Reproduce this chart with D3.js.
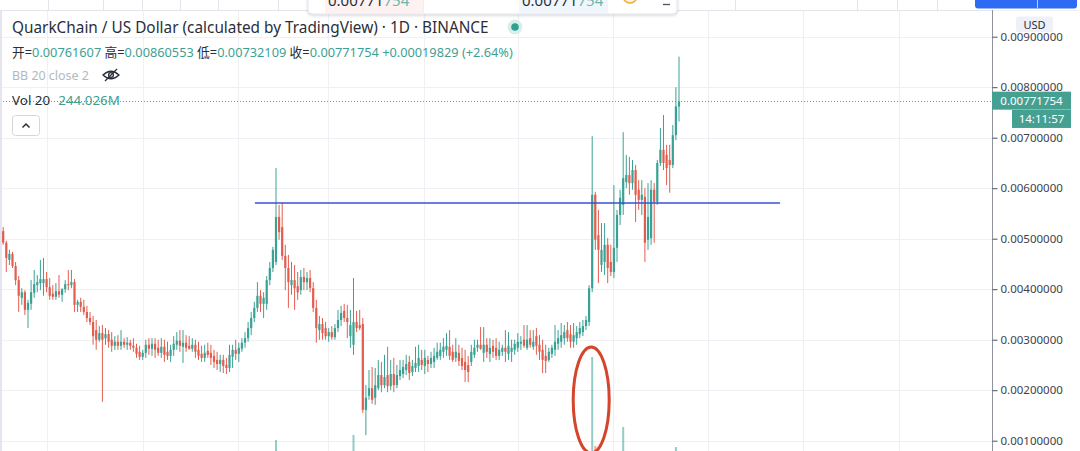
<!DOCTYPE html>
<html><head><meta charset="utf-8">
<script src="https://cdn.jsdelivr.net/npm/d3@7"></script>
<style>
body{margin:0;background:#fff;overflow:hidden}
svg{display:block}
text{font-family:"Noto Sans","Noto Sans CJK SC",sans-serif}
</style></head>
<body><svg id="c" width="1080" height="451"></svg>
<script>
// ---- data (QKC/USD daily) ----
const opens=[0.00515,0.00492,0.00458,0.00470,0.00446,0.00418,0.00383,0.00394,0.00359,0.00371,
0.00393,0.00408,0.00412,0.00412,0.00420,0.00404,0.00391,0.00385,0.00396,0.00389,
0.00400,0.00410,0.00408,0.00414,0.00369,0.00375,0.00365,0.00355,0.00343,0.00335,
0.00319,0.00300,0.00313,0.00303,0.00311,0.00300,0.00288,0.00296,0.00288,0.00296,
0.00290,0.00294,0.00288,0.00284,0.00276,0.00266,0.00274,0.00290,0.00282,0.00292,
0.00284,0.00274,0.00286,0.00276,0.00268,0.00280,0.00290,0.00298,0.00286,0.00294,
0.00288,0.00282,0.00290,0.00280,0.00272,0.00264,0.00278,0.00274,0.00268,0.00260,
0.00252,0.00260,0.00250,0.00244,0.00266,0.00280,0.00272,0.00282,0.00294,0.00303,
0.00323,0.00343,0.00363,0.00387,0.00371,0.00371,0.00418,0.00442,0.00454,0.00543,
0.00523,0.00466,0.00442,0.00408,0.00418,0.00406,0.00398,0.00424,0.00414,0.00422,
0.00402,0.00363,0.00319,0.00331,0.00323,0.00307,0.00315,0.00305,0.00323,0.00339,
0.00357,0.00343,0.00307,0.00290,0.00335,0.00329,0.00331,0.00161,0.00189,0.00204,
0.00185,0.00204,0.00230,0.00210,0.00230,0.00208,0.00232,0.00210,0.00228,0.00232,
0.00240,0.00256,0.00236,0.00244,0.00248,0.00260,0.00248,0.00260,0.00252,0.00256,
0.00264,0.00268,0.00276,0.00280,0.00286,0.00276,0.00264,0.00274,0.00264,0.00256,
0.00250,0.00256,0.00270,0.00284,0.00290,0.00274,0.00290,0.00272,0.00288,0.00284,
0.00268,0.00276,0.00284,0.00272,0.00276,0.00280,0.00284,0.00292,0.00300,0.00284,
0.00303,0.00286,0.00307,0.00290,0.00280,0.00268,0.00260,0.00272,0.00280,0.00292,
0.00296,0.00303,0.00319,0.00311,0.00296,0.00303,0.00311,0.00315,0.00327,0.00335,
0.00402,0.00587,0.00507,0.00448,0.00454,0.00488,0.00454,0.00434,0.00482,0.00547,
0.00567,0.00612,0.00626,0.00610,0.00636,0.00597,0.00577,0.00583,0.00498,0.00501,
0.00597,0.00573,0.00650,0.00676,0.00666,0.00656,0.00646,0.00705,0.00761607];
const highs=[0.00523,0.00496,0.00478,0.00474,0.00454,0.00426,0.00402,0.00398,0.00379,0.00418,
0.00438,0.00428,0.00458,0.00462,0.00434,0.00422,0.00408,0.00412,0.00428,0.00402,
0.00418,0.00438,0.00438,0.00420,0.00379,0.00383,0.00379,0.00367,0.00355,0.00347,
0.00339,0.00327,0.00329,0.00323,0.00319,0.00315,0.00307,0.00309,0.00319,0.00303,
0.00305,0.00300,0.00303,0.00292,0.00288,0.00280,0.00300,0.00303,0.00303,0.00303,
0.00300,0.00303,0.00300,0.00296,0.00290,0.00307,0.00315,0.00319,0.00319,0.00309,
0.00307,0.00303,0.00300,0.00296,0.00288,0.00290,0.00294,0.00290,0.00280,0.00276,
0.00270,0.00270,0.00264,0.00290,0.00290,0.00300,0.00294,0.00303,0.00315,0.00335,
0.00355,0.00375,0.00414,0.00398,0.00394,0.00426,0.00454,0.00484,0.00640,0.00567,
0.00571,0.00488,0.00468,0.00454,0.00448,0.00434,0.00438,0.00442,0.00434,0.00438,
0.00414,0.00379,0.00347,0.00343,0.00335,0.00323,0.00327,0.00331,0.00359,0.00367,
0.00371,0.00369,0.00359,0.00422,0.00357,0.00359,0.00343,0.00210,0.00240,0.00246,
0.00244,0.00260,0.00256,0.00270,0.00286,0.00260,0.00264,0.00250,0.00260,0.00260,
0.00270,0.00268,0.00260,0.00286,0.00290,0.00280,0.00280,0.00268,0.00276,0.00284,
0.00294,0.00294,0.00303,0.00313,0.00319,0.00290,0.00303,0.00290,0.00284,0.00280,
0.00268,0.00290,0.00300,0.00300,0.00325,0.00325,0.00303,0.00303,0.00300,0.00303,
0.00296,0.00290,0.00319,0.00315,0.00300,0.00300,0.00313,0.00307,0.00329,0.00329,
0.00319,0.00319,0.00323,0.00309,0.00300,0.00290,0.00284,0.00290,0.00329,0.00319,
0.00333,0.00329,0.00335,0.00329,0.00333,0.00327,0.00335,0.00339,0.00347,0.00408,
0.00703,0.00593,0.00557,0.00531,0.00531,0.00501,0.00488,0.00606,0.00557,0.00597,
0.00711,0.00666,0.00662,0.00656,0.00646,0.00616,0.00616,0.00600,0.00610,0.00616,
0.00610,0.00656,0.00719,0.00745,0.00686,0.00686,0.00725,0.00800,0.00860553];
const lows=[0.00488,0.00434,0.00448,0.00442,0.00408,0.00355,0.00369,0.00349,0.00323,0.00359,
0.00383,0.00394,0.00398,0.00387,0.00394,0.00379,0.00379,0.00379,0.00383,0.00375,
0.00393,0.00398,0.00402,0.00355,0.00355,0.00355,0.00349,0.00335,0.00329,0.00290,
0.00280,0.00296,0.00177,0.00290,0.00284,0.00276,0.00280,0.00280,0.00280,0.00284,
0.00280,0.00280,0.00276,0.00264,0.00260,0.00260,0.00264,0.00270,0.00268,0.00264,
0.00268,0.00264,0.00256,0.00260,0.00256,0.00268,0.00280,0.00276,0.00254,0.00276,
0.00280,0.00276,0.00264,0.00260,0.00256,0.00256,0.00264,0.00250,0.00244,0.00240,
0.00236,0.00234,0.00232,0.00236,0.00244,0.00260,0.00256,0.00276,0.00284,0.00296,
0.00309,0.00335,0.00355,0.00355,0.00343,0.00359,0.00408,0.00434,0.00448,0.00498,
0.00458,0.00398,0.00363,0.00389,0.00359,0.00379,0.00389,0.00398,0.00398,0.00394,
0.00355,0.00294,0.00300,0.00300,0.00300,0.00296,0.00300,0.00300,0.00315,0.00327,
0.00335,0.00303,0.00284,0.00270,0.00315,0.00319,0.00155,0.00111,0.00181,0.00173,
0.00171,0.00200,0.00196,0.00204,0.00196,0.00200,0.00196,0.00204,0.00220,0.00224,
0.00230,0.00220,0.00228,0.00236,0.00236,0.00240,0.00232,0.00236,0.00244,0.00244,
0.00260,0.00260,0.00264,0.00268,0.00260,0.00256,0.00256,0.00248,0.00240,0.00216,
0.00216,0.00248,0.00264,0.00276,0.00280,0.00256,0.00264,0.00256,0.00264,0.00260,
0.00260,0.00268,0.00256,0.00260,0.00256,0.00270,0.00276,0.00280,0.00284,0.00280,
0.00284,0.00280,0.00270,0.00260,0.00234,0.00234,0.00256,0.00264,0.00268,0.00280,
0.00284,0.00290,0.00296,0.00284,0.00284,0.00290,0.00303,0.00307,0.00319,0.00327,
0.00394,0.00478,0.00412,0.00434,0.00428,0.00412,0.00426,0.00422,0.00454,0.00527,
0.00547,0.00600,0.00587,0.00597,0.00533,0.00557,0.00547,0.00454,0.00478,0.00488,
0.00492,0.00567,0.00644,0.00636,0.00606,0.00591,0.00640,0.00695,0.00732109];
const closes=[0.00492,0.00462,0.00470,0.00446,0.00418,0.00387,0.00394,0.00359,0.00373,0.00394,
0.00410,0.00414,0.00420,0.00420,0.00404,0.00387,0.00385,0.00396,0.00389,0.00400,
0.00410,0.00408,0.00414,0.00369,0.00375,0.00365,0.00355,0.00343,0.00335,0.00307,
0.00300,0.00313,0.00300,0.00311,0.00296,0.00288,0.00296,0.00288,0.00296,0.00290,
0.00294,0.00288,0.00284,0.00272,0.00266,0.00274,0.00290,0.00282,0.00292,0.00280,
0.00274,0.00286,0.00270,0.00268,0.00280,0.00292,0.00298,0.00288,0.00294,0.00284,
0.00282,0.00290,0.00276,0.00268,0.00264,0.00274,0.00270,0.00264,0.00256,0.00252,
0.00260,0.00248,0.00244,0.00270,0.00280,0.00272,0.00284,0.00294,0.00303,0.00323,
0.00343,0.00363,0.00387,0.00371,0.00383,0.00418,0.00442,0.00478,0.00543,0.00513,
0.00466,0.00442,0.00414,0.00418,0.00402,0.00394,0.00424,0.00414,0.00422,0.00402,
0.00363,0.00323,0.00331,0.00313,0.00307,0.00315,0.00305,0.00323,0.00339,0.00353,
0.00343,0.00335,0.00329,0.00335,0.00323,0.00323,0.00161,0.00185,0.00204,0.00181,
0.00210,0.00230,0.00210,0.00226,0.00208,0.00232,0.00210,0.00230,0.00240,0.00246,
0.00252,0.00234,0.00248,0.00254,0.00264,0.00250,0.00264,0.00252,0.00264,0.00268,
0.00276,0.00280,0.00286,0.00288,0.00268,0.00260,0.00276,0.00258,0.00248,0.00240,
0.00236,0.00276,0.00284,0.00290,0.00282,0.00290,0.00276,0.00284,0.00276,0.00268,
0.00280,0.00284,0.00276,0.00288,0.00284,0.00292,0.00296,0.00296,0.00288,0.00300,
0.00290,0.00296,0.00288,0.00276,0.00260,0.00258,0.00276,0.00284,0.00296,0.00303,
0.00309,0.00315,0.00303,0.00296,0.00309,0.00315,0.00323,0.00327,0.00339,0.00402,
0.00587,0.00498,0.00478,0.00478,0.00488,0.00442,0.00434,0.00482,0.00547,0.00581,
0.00620,0.00626,0.00610,0.00636,0.00587,0.00577,0.00587,0.00492,0.00543,0.00597,
0.00573,0.00650,0.00676,0.00650,0.00640,0.00646,0.00705,0.00762,0.00771754];
// volume in millions
const volumes=[160,150,140,170,180,210,150,160,190,170,
150,140,160,170,130,140,120,130,150,140,
120,130,110,160,120,110,120,130,120,150,
170,130,260,140,120,110,100,110,120,100,
90,100,110,120,130,110,120,100,110,100,
100,110,120,100,110,130,120,110,120,100,
90,100,110,120,100,110,100,110,120,130,
110,120,130,140,120,100,110,120,130,150,
160,180,220,170,160,200,240,280,400,250,
230,200,180,160,150,140,130,120,130,120,
150,170,140,130,120,110,100,110,130,140,
130,150,180,450,150,130,280,260,200,170,
150,140,130,120,130,120,110,110,100,110,
100,110,100,120,110,100,110,100,90,100,
110,100,120,130,120,110,100,110,120,130,
110,120,100,110,140,130,110,100,110,100,
100,90,130,120,110,100,120,110,130,120,
110,120,130,140,150,120,110,120,130,120,
130,120,110,120,130,120,140,160,180,280,
1230,340,260,220,200,210,190,250,280,260,
530,280,250,230,260,220,200,270,260,250,
230,240,280,280,260,250,240,330,244];
const priceTicks=[0.001,0.002,0.003,0.004,0.005,0.006,0.007,0.008,0.009];
const monthGridIdx=[14.1,45.1,75.7,104.9,135.7,166,196.7,227.3,258,288.9];
const levelPrice=0.005707, levelFrom=81.2, levelTo=250.6;
const lastPrice=0.00771754;
const titleText="QuarkChain / US Dollar (calculated by TradingView) · 1D · BINANCE";
const ohlcParts=[["开=","0.00761607"],[" 高=","0.00860553"],[" 低=","0.00732109"],[" 收=","0.00771754"],[" ","+0.00019829 (+2.64%)"]];

// ---- drawing ----
const UP="#3aa294", DOWN="#e35d4e", TEAL_TXT="#3f9f92", DARK="#2a2e39";
const svg=d3.select("#c");
const axisX=992;
const N=opens.length;
const x=d3.scaleLinear().domain([0,N-1]).range([3.2,679]);
const y=d3.scaleLinear().domain([0.001,0.009]).range([440.7,36.7]);
const yv=d3.scaleLinear().domain([0,d3.max(volumes)]).range([480,357]);
const data=d3.range(N).map(i=>({i,o:opens[i],h:highs[i],l:lows[i],c:closes[i],v:volumes[i]}));

svg.append("rect").attr("width",1080).attr("height",451).attr("fill","#fff");
const defs=svg.append("defs");
defs.append("clipPath").attr("id","plot").append("rect").attr("x",0).attr("y",10.5).attr("width",axisX).attr("height",441);
const f=defs.append("filter").attr("id","sh").attr("x","-10%").attr("y","-50%").attr("width","120%").attr("height","200%");
f.append("feDropShadow").attr("dx",0).attr("dy",1).attr("stdDeviation",1.5).attr("flood-color","#000").attr("flood-opacity",0.18);

const plot=svg.append("g").attr("clip-path","url(#plot)");
// grid
plot.selectAll(".hg").data(priceTicks).join("line")
  .attr("x1",0).attr("x2",axisX).attr("y1",d=>Math.round(y(d))+0.5).attr("y2",d=>Math.round(y(d))+0.5)
  .attr("stroke","#eef0f4").attr("stroke-width",1.2);
plot.selectAll(".vg").data(monthGridIdx).join("line")
  .attr("x1",d=>Math.round(x(d))+0.5).attr("x2",d=>Math.round(x(d))+0.5).attr("y1",10).attr("y2",451)
  .attr("stroke","#eef0f4").attr("stroke-width",1.2);
// left edge strip
svg.append("rect").attr("x",0).attr("y",10).attr("width",2).attr("height",441).attr("fill","#e4e5ee");

// volume
plot.selectAll(".vol").data(data).join("rect")
  .attr("x",d=>x(d.i)-1).attr("width",2)
  .attr("y",d=>yv(d.v)).attr("height",d=>480-yv(d.v))
  .attr("fill",d=>d.c>=d.o?UP:DOWN).attr("opacity",0.55);

// candles
const cg=plot.selectAll(".cd").data(data).join("g");
cg.append("line").attr("x1",d=>x(d.i)).attr("x2",d=>x(d.i))
  .attr("y1",d=>y(d.h)).attr("y2",d=>y(d.l))
  .attr("stroke",d=>d.c>=d.o?UP:DOWN).attr("stroke-width",1);
cg.append("rect").attr("x",d=>x(d.i)-1.1).attr("width",2.2)
  .attr("y",d=>y(Math.max(d.o,d.c)))
  .attr("height",d=>Math.max(1,Math.abs(y(d.o)-y(d.c))))
  .attr("fill",d=>d.c>=d.o?UP:DOWN);

// horizontal level
plot.append("line").attr("x1",x(levelFrom)).attr("x2",x(levelTo))
  .attr("y1",y(levelPrice)).attr("y2",y(levelPrice))
  .attr("stroke","#3b4fd4").attr("stroke-width",1.5);
// last price dotted line
plot.append("line").attr("x1",0).attr("x2",axisX)
  .attr("y1",y(lastPrice)).attr("y2",y(lastPrice))
  .attr("stroke","#4aa395").attr("stroke-width",1).attr("stroke-dasharray","1,2");
// ellipse annotation around volume spike
const spikeIdx=volumes.indexOf(d3.max(volumes));
plot.append("ellipse").attr("cx",x(spikeIdx)-1).attr("cy",400).attr("rx",18).attr("ry",53)
  .attr("fill","none").attr("stroke","#d5452b").attr("stroke-width",3);

// toolbar strip on top
svg.append("rect").attr("x",0).attr("y",0).attr("width",1080).attr("height",10).attr("fill","#fff");
svg.append("line").attr("x1",0).attr("x2",1080).attr("y1",10.5).attr("y2",10.5).attr("stroke","#e3e5ea");
[48,103,142,180,218,278,735,857,897,937].forEach(sx=>{
  svg.append("line").attr("x1",sx+0.5).attr("x2",sx+0.5).attr("y1",0).attr("y2",10).attr("stroke","#e3e5ea");
});
svg.append("rect").attr("x",975).attr("y",-3).attr("width",102).attr("height",11.5).attr("rx",3).attr("fill","#2e6bf5");
svg.append("line").attr("x1",1037.5).attr("x2",1037.5).attr("y1",0).attr("y2",8.5).attr("stroke","#bcd0fb");
// popup
const pop=svg.append("g");
pop.append("rect").attr("x",308).attr("y",-8).attr("width",369).attr("height",22).attr("rx",4)
  .attr("fill","#fff").attr("stroke","#e0e3eb").attr("filter","url(#sh)");
pop.append("rect").attr("x",325).attr("y",-8).attr("width",98).attr("height",21).attr("fill","#fdf1f1");
pop.append("rect").attr("x",519).attr("y",-8).attr("width",89).attr("height",21).attr("fill","#f1f6fd");
pop.append("line").attr("x1",423.5).attr("x2",423.5).attr("y1",-8).attr("y2",13).attr("stroke","#eceef2");
[328,522].forEach(px=>{
  const t=pop.append("text").attr("x",px).attr("y",6).attr("font-size",15).attr("fill",DARK);
  t.append("tspan").text("0.00771");
  t.append("tspan").attr("fill","#6ab8ac").text("754");
});
pop.append("circle").attr("cx",630).attr("cy",-4).attr("r",7).attr("fill","#fff7e8").attr("stroke","#f0aa3a").attr("stroke-width",1.5);
pop.append("line").attr("x1",663).attr("x2",670).attr("y1",4.5).attr("y2",4.5).attr("stroke","#50535e").attr("stroke-width",1.3);

// legend texts
function fitWidth(t,target){const w=t.node().getComputedTextLength();const fs=parseFloat(t.attr("font-size"));t.attr("font-size",fs*target/w);}
const title=svg.append("text").attr("x",12).attr("y",32.5).attr("font-size",15).attr("fill",DARK).text(titleText);
fitWidth(title,477);
svg.append("circle").attr("cx",515).attr("cy",27).attr("r",7.5).attr("fill","#d7efeb");
svg.append("circle").attr("cx",515).attr("cy",27).attr("r",3.8).attr("fill","#2fa192");

const ohlc=svg.append("text").attr("x",12).attr("y",56.5).attr("font-size",12.5).attr("fill",DARK);
ohlcParts.forEach(p=>{ohlc.append("tspan").attr("fill",DARK).text(p[0]);ohlc.append("tspan").attr("fill",TEAL_TXT).text(p[1]);});
fitWidth(ohlc,501);

const bb=svg.append("text").attr("x",12).attr("y",80).attr("font-size",12.5).attr("fill","#b4b7bf").text("BB 20 close 2");
fitWidth(bb,77);
const eye=svg.append("g").attr("fill","none").attr("stroke",DARK).attr("stroke-width",1.3);
eye.append("path").attr("d","M103,75 Q111,67.5 119,75 Q111,82.5 103,75 Z");
eye.append("circle").attr("cx",111).attr("cy",75).attr("r",2.4);
eye.append("line").attr("x1",105).attr("y1",81).attr("x2",117).attr("y2",69);

const vol=svg.append("text").attr("x",12).attr("y",105).attr("font-size",12.5).attr("fill",DARK);
vol.append("tspan").text("Vol 20");
vol.append("tspan").attr("dx",8).attr("fill",TEAL_TXT).text("244.026M");
fitWidth(vol,100);

svg.append("rect").attr("x",12.5).attr("y",115.5).attr("width",27).attr("height",20).attr("rx",3)
  .attr("fill","#fff").attr("stroke","#d4d6dc");
svg.append("path").attr("d","M22.5,127.5 L26,124 L29.5,127.5").attr("fill","none").attr("stroke",DARK).attr("stroke-width",1.5);

// price axis
svg.append("rect").attr("x",axisX).attr("y",10.5).attr("width",88).attr("height",441).attr("fill","#fff");
svg.append("line").attr("x1",axisX+0.5).attr("x2",axisX+0.5).attr("y1",10).attr("y2",451).attr("stroke","#8f929b");
const ag=svg.append("g").attr("transform",`translate(${axisX+0.5},0)`)
  .call(d3.axisRight(y).tickValues(priceTicks).tickFormat(d3.format(".8f")).tickSize(5).tickPadding(3));
ag.select(".domain").remove();
ag.selectAll(".tick line").attr("stroke","#50535e");
ag.selectAll(".tick text").attr("fill","#3e424d").attr("font-size",11.5)
  .attr("font-family","\"Noto Sans\",sans-serif");

// USD box
svg.append("rect").attr("x",1016).attr("y",16.5).attr("width",37).attr("height",15.5).attr("rx",2).attr("fill","#eef1f8");
svg.append("text").attr("x",1034.5).attr("y",28.5).attr("text-anchor","middle").attr("font-size",11).attr("fill",DARK).text("USD");

// last price labels
const ly=y(lastPrice);
svg.append("rect").attr("x",axisX).attr("y",ly-9.8).attr("width",79).attr("height",18).attr("fill","#46a091");
svg.append("text").attr("x",axisX+39.5).attr("y",ly+4).attr("text-anchor","middle").attr("font-size",11.5).attr("fill","#fff").text(lastPrice.toFixed(8));
svg.append("rect").attr("x",1012).attr("y",ly+8.5).attr("width",59).attr("height",18).attr("fill","#46a091");
svg.append("text").attr("x",1041.5).attr("y",ly+22).attr("text-anchor","middle").attr("font-size",11.5).attr("fill","#fff").text("14:11:57");
</script></body></html>
